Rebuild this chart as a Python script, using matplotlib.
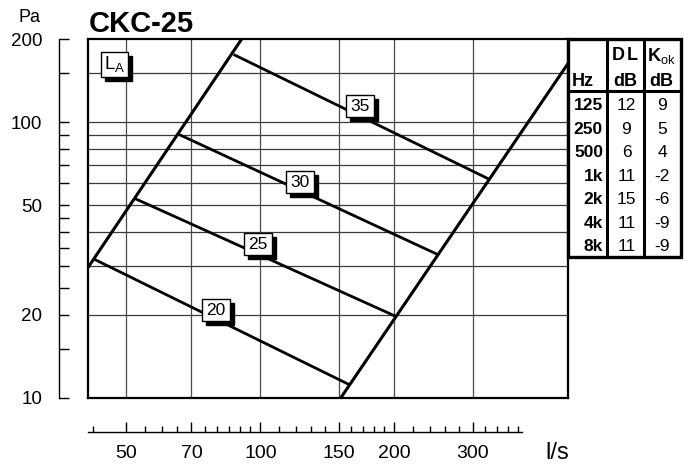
import numpy as np
import matplotlib
matplotlib.use('Agg')
import matplotlib.pyplot as plt
from matplotlib.ticker import NullFormatter, NullLocator
from matplotlib.transforms import ScaledTranslation

plt.rcParams['font.family'] = ['Liberation Sans', 'DejaVu Sans']
plt.rcParams['mathtext.fontset'] = 'custom'
plt.rcParams['mathtext.rm'] = 'Liberation Sans'
plt.rcParams['mathtext.bf'] = 'Liberation Sans:bold'

# ── data ─────────────────────────────────────────────────────────────
Q_LIM = (41, 491)          # l/s
P_LIM = (10, 200)          # Pa

# working-range boundaries (flow l/s, pressure Pa)
left_q  = [41, 90.8]
left_p  = [29.7, 200]
right_q = [151.5, 491]
right_p = [10, 163]

# sound level lines L_A
la_levels = ['20', '25', '30', '35']
la_q = [[42.4, 157.3], [52.7, 201], [65.9, 249.4], [87.6, 325.8]]
la_p = [[31.8, 11.24], [52.5, 19.8], [89.9, 33.2], [174.9, 62.2]]
la_label_q = [79.3, 98.8, 122.6, 167.2]
la_label_p = [20.8, 36.0, 60.5, 114]

# grid and ticks
h_grid = [20, 30, 40, 50, 60, 70, 80, 90, 100, 150]
v_grid = [50, 70, 100, 150, 200, 300]
y_major = [10, 20, 50, 100, 200]
y_minor = [15, 25, 30, 35, 40, 45, 60, 70, 80, 90, 150]
x_major = [50, 70, 100, 150, 200, 300]
x_minor = [42, 55, 60, 65, 75, 80, 85, 90, 95, 110, 120, 130, 140,
           160, 170, 180, 190, 220, 240, 260, 280, 320, 340, 360, 380]

# table
freqs  = ['125', '250', '500', '1k', '2k', '4k', '8k']
dl_db  = [12, 9, 6, 11, 15, 11, 11]
kok_db = [9, 5, 4, -2, -6, -9, -9]

W, H = 693, 466
fig = plt.figure(figsize=(W / 100, H / 100), dpi=100)


def px(l, t, w, h):
    return [l / W, (H - t - h) / H, w / W, h / H]


# ── main chart ──────────────────────────────────────────────────────
ax = fig.add_axes(px(88, 39, 480, 359))
ax.set_xscale('log')
ax.set_yscale('log')
ax.set_xlim(*Q_LIM)
ax.set_ylim(*P_LIM)
ax.set_xticks([])
ax.set_yticks([])
ax.xaxis.set_minor_locator(NullLocator())
ax.yaxis.set_minor_locator(NullLocator())
for s in ax.spines.values():
    s.set_linewidth(1.6)
    s.set_zorder(6)

for p in h_grid:
    ax.axhline(p, color='#3a3a3a', lw=0.9, zorder=1)
for q in v_grid:
    ax.axvline(q, color='#4a4a4a', lw=0.9, zorder=1)

ax.plot(left_q, left_p, color='black', lw=2.2, zorder=3)
ax.plot(right_q, right_p, color='black', lw=2.2, zorder=3)
for q, p in zip(la_q, la_p):
    ax.plot(q, p, color='black', lw=2.0, zorder=3)


def boxed(x, y, s, w=28, h=22, fs=12.5):
    # box sized in pixels around a data point, with a drop shadow
    tr = ScaledTranslation(x, y, ax.transData)
    ax.add_patch(plt.Rectangle((-w / 2 + 4, -h / 2 - 4), w, h, transform=tr,
                               fc='black', ec='black', lw=1, zorder=4,
                               clip_on=False))
    ax.add_patch(plt.Rectangle((-w / 2, -h / 2), w, h, transform=tr,
                               fc='white', ec='black', lw=1, zorder=5,
                               clip_on=False))
    ax.text(x, y, s, ha='center', va='center', fontsize=fs, zorder=6)


for s, q, p in zip(la_levels, la_label_q, la_label_p):
    boxed(q, p, s)
boxed(47.1, 162, r'$\mathrm{L_A}$', w=27, h=25, fs=13.5)

# ── separate y scale at the left ───────────────────────────────────
ay = fig.add_axes(px(59, 39, 1, 359))
ay.set_yscale('log')
ay.set_ylim(*P_LIM)
ay.patch.set_visible(False)
for k in ['top', 'right', 'bottom']:
    ay.spines[k].set_visible(False)
ay.spines['left'].set_linewidth(1.0)
ay.set_xticks([])
ay.set_yticks(y_major, labels=[str(v) for v in y_major])
ay.set_yticks(y_minor, minor=True)
ay.yaxis.set_minor_formatter(NullFormatter())
ay.tick_params(axis='y', which='both', direction='in', length=7.5,
               width=1.0, pad=12, labelsize=13.5)

# ── separate x scale at the bottom ─────────────────────────────────
axx = fig.add_axes(px(88, 431, 480, 1))
axx.set_xscale('log')
axx.set_xlim(*Q_LIM)
axx.patch.set_visible(False)
for k in ['top', 'right', 'left']:
    axx.spines[k].set_visible(False)
axx.spines['bottom'].set_bounds(Q_LIM[0], 388)
axx.spines['bottom'].set_linewidth(1.0)
axx.set_yticks([])
axx.set_xticks(x_major, labels=[str(v) for v in x_major])
axx.set_xticks(x_minor, minor=True)
axx.xaxis.set_minor_formatter(NullFormatter())
axx.tick_params(axis='x', which='major', direction='in', length=7.5,
                width=1.0, pad=9.5, labelsize=14)
axx.tick_params(axis='x', which='minor', direction='in', length=4,
                width=1.0)

fig.text(557 / W, 1 - 453 / H, 'l/s', ha='center', va='center', fontsize=17)
fig.text(29 / W, 1 - 18 / H, 'Pa', ha='center', va='center', fontsize=13)
fig.text(89 / W, 1 - 32 / H, 'CKC-25', ha='left', va='baseline',
         fontsize=21, fontweight='bold')

# ── DL / Kok table ─────────────────────────────────────────────────
at = fig.add_axes(px(568, 39, 113, 218))
at.set_xlim(0, 113)
at.set_ylim(218, 0)
at.axis('off')
at.add_patch(plt.Rectangle((0, 0), 113, 218, fill=False, lw=2.4,
                           ec='black', clip_on=False))
for xv in [38.7, 76]:
    at.plot([xv, xv], [0, 218], color='black', lw=2.2, clip_on=False)
at.plot([0, 113], [52.3, 52.3], color='black', lw=2.2, clip_on=False)

at.text(57, 17, 'D', ha='right', va='center', fontsize=13, fontweight='bold')
at.text(59, 17, 'L', ha='left', va='center', fontsize=13, fontweight='bold')
at.text(93, 17, r'$\mathbf{K}_{\mathrm{ok}}$', ha='center', va='center', fontsize=13)
at.text(4, 43, 'Hz', ha='left', va='center', fontsize=13, fontweight='bold')
at.text(57, 43, 'dB', ha='center', va='center', fontsize=13, fontweight='bold')
at.text(93, 43, 'dB', ha='center', va='center', fontsize=13, fontweight='bold')

row_y0, row_dy = 66.7, 23.5
for i, (f, d, k) in enumerate(zip(freqs, dl_db, kok_db)):
    yy = row_y0 + i * row_dy
    at.text(35, yy, f, ha='right', va='center', fontsize=12.5, fontweight='bold')
    at.text(58.5, yy, str(d), ha='center', va='center', fontsize=12.5)
    at.text(94, yy, str(k), ha='center', va='center', fontsize=12.5)

fig.savefig('out.png', dpi=100)
